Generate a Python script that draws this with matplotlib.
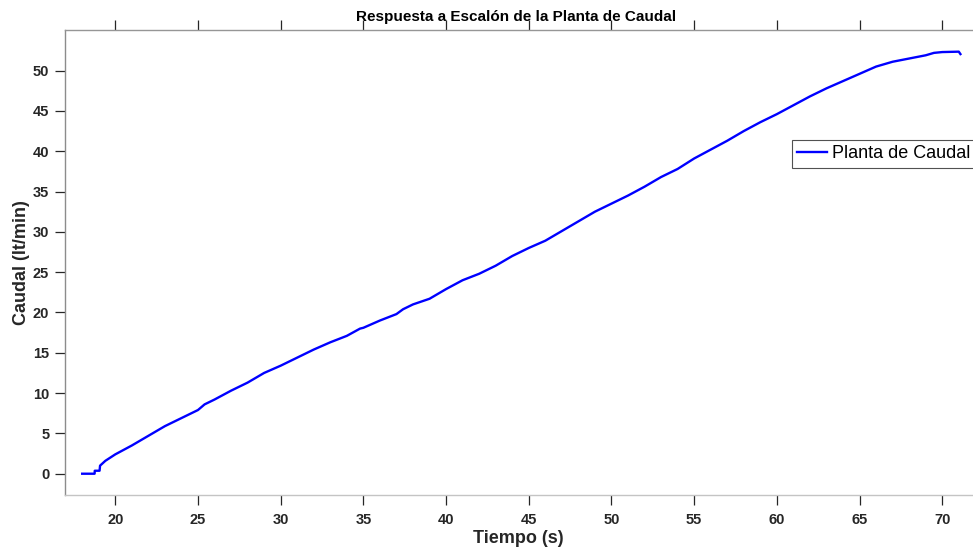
import matplotlib
matplotlib.use("Agg")
import matplotlib.pyplot as plt

# tiempo (s) y caudal (lt/min)
tiempo = [18.0, 18.75, 18.76, 19.05, 19.08, 19.4, 20, 21, 22, 23, 24, 25, 25.4,
          26, 27, 28, 29, 30, 31, 32, 33, 34, 34.8, 35, 36, 37, 37.4, 38, 39,
          40, 41, 42, 43, 44, 45, 46, 47, 48, 49, 50, 51, 52, 53, 54, 55, 56,
          57, 58, 59, 60, 61, 62, 63, 64, 65, 66, 67, 68, 69, 69.5, 70, 71, 71.1]
caudal = [0.0, 0.0, 0.37, 0.37, 1.0, 1.6, 2.4, 3.5, 4.7, 5.9, 6.9, 7.9, 8.6,
          9.2, 10.3, 11.3, 12.5, 13.4, 14.4, 15.4, 16.3, 17.1, 18.0, 18.1, 19.0,
          19.8, 20.4, 21.0, 21.7, 22.9, 24.0, 24.8, 25.8, 27.0, 28.0, 28.9,
          30.1, 31.3, 32.5, 33.5, 34.5, 35.6, 36.8, 37.8, 39.1, 40.2, 41.3,
          42.5, 43.6, 44.6, 45.7, 46.8, 47.8, 48.7, 49.6, 50.5, 51.1, 51.5,
          51.9, 52.2, 52.3, 52.35, 52.05]
xticks = [20, 25, 30, 35, 40, 45, 50, 55, 60, 65, 70]
yticks = [0, 5, 10, 15, 20, 25, 30, 35, 40, 45, 50]

plt.rcParams['font.family'] = ['Liberation Sans', 'DejaVu Sans']

W, H = 973, 550
fig = plt.figure(figsize=(W/100, H/100), dpi=100)
ax = fig.add_axes([64.5/W, 55/H, (W-64.5)/W, (495-30.3)/H])

ax.plot(tiempo, caudal, color=(0, 0, 1), lw=1.7, label='Planta de Caudal')

ax.set_xlim(16.93, 71.86)
ax.set_ylim(-2.64, 55.0)
ax.set_xticks(xticks)
ax.set_yticks(yticks)

ax.tick_params(direction='out', length=7, width=0.9, color='#262626',
               labelcolor='#262626', labelsize=10.5)
ax.tick_params(axis='x', top=True, pad=6)
ax.tick_params(axis='y', pad=4)
for lab in ax.get_xticklabels() + ax.get_yticklabels():
    lab.set_fontweight('bold')

ax.spines['right'].set_visible(False)
ax.spines['left'].set_color('#8c8c8c')
ax.spines['top'].set_color('#969696')
ax.spines['bottom'].set_color('#c4c4c4')
for s in ['left', 'top', 'bottom']:
    ax.spines[s].set_linewidth(1.0)

ax.set_xlabel('Tiempo (s)', fontsize=13, fontweight='bold', color='#262626',
              labelpad=2)
ax.set_ylabel('Caudal (lt/min)', fontsize=13, fontweight='bold', color='#262626',
              labelpad=2)
fig.text(516/W, 1-17/H, 'Respuesta a Escalón de la Planta de Caudal',
         ha='center', va='center', fontsize=11, fontweight='bold', color='black')

leg = ax.legend(loc='upper left', bbox_to_anchor=(791.7/W, 1-140/H),
                bbox_transform=fig.transFigure, fontsize=13, frameon=True,
                fancybox=False, handlelength=1.65, handletextpad=0.3,
                borderpad=0.3, borderaxespad=0)
leg.get_frame().set_edgecolor('#262626')
leg.get_frame().set_linewidth(0.8)

fig.savefig('out.png', dpi=100)
